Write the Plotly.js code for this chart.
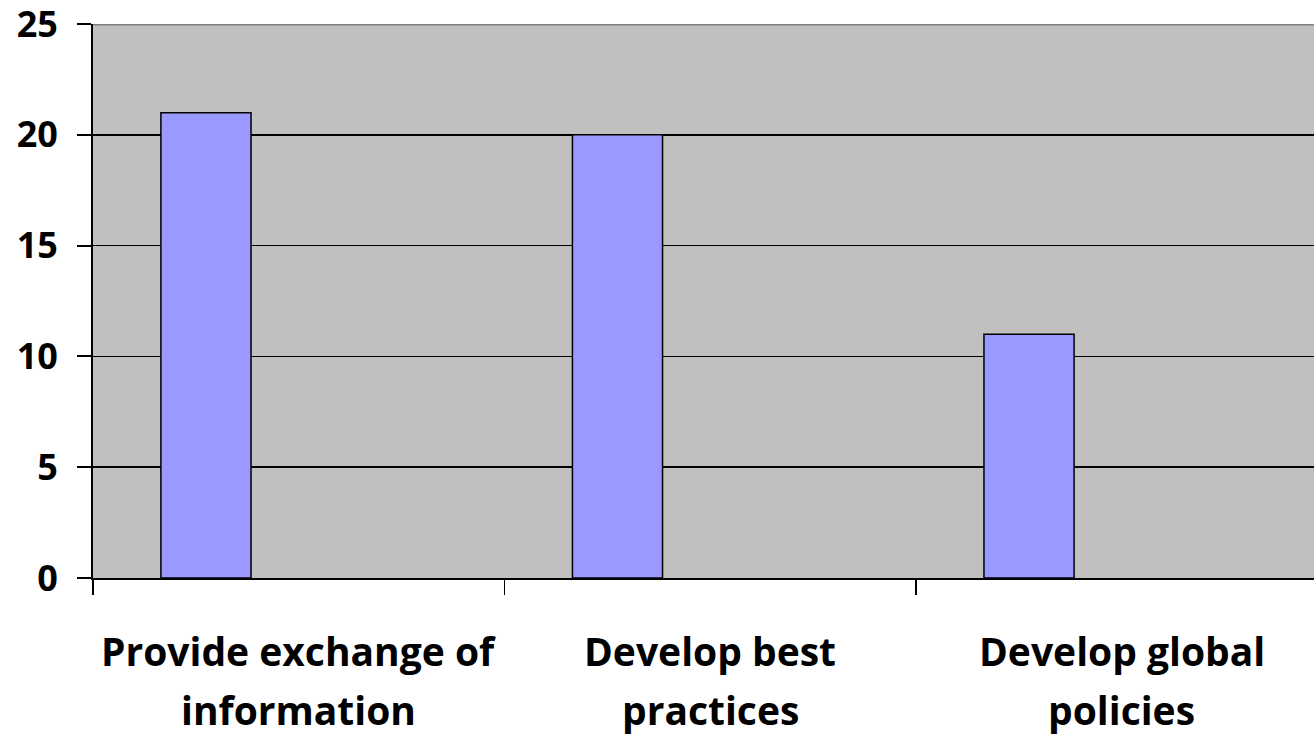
<!DOCTYPE html>
<html>
<head>
<meta charset="utf-8">
<script src="https://cdn.plot.ly/plotly-3.0.1.min.js"></script>
<style>html,body{margin:0;padding:0;background:#fff;}#chart{width:1314px;height:738px;}</style>
</head>
<body>
<div id="chart"></div>
<script>
var categories = ["Provide exchange of information", "Develop best practices", "Develop global policies"];
var labelLine1 = ["Provide exchange of", "Develop best", "Develop global"];
var labelLine2 = ["information", "practices", "policies"];
var values = [21, 20, 11];
var yTicks = [0, 5, 10, 15, 20, 25];

var FONT = "Open Sans, Liberation Sans, Arial, sans-serif";

var trace = {
  type: "bar",
  x: categories,
  y: values,
  width: 0.219,
  offset: -0.335,
  marker: {color: "#9999FF", line: {color: "#000000", width: 1.5}},
  hoverinfo: "x+y"
};

var annotations = [];
for (var i = 0; i < categories.length; i++) {
  annotations.push({x: categories[i], xref: "x", y: -0.130, yref: "paper", yanchor: "middle",
    text: "<b>" + labelLine1[i] + "</b>", showarrow: false, font: {family: FONT, size: 39, color: "#000"}});
  annotations.push({x: categories[i], xref: "x", y: -0.238, yref: "paper", yanchor: "middle",
    text: "<b>" + labelLine2[i] + "</b>", showarrow: false, font: {family: FONT, size: 39, color: "#000"}});
}

var layout = {
  width: 1314, height: 738,
  margin: {l: 93, r: 0, t: 24, b: 160, pad: 0},
  paper_bgcolor: "#FFFFFF",
  plot_bgcolor: "#C0C0C0",
  showlegend: false,
  bargap: 0,
  xaxis: {
    type: "category",
    categoryorder: "array",
    categoryarray: categories,
    range: [-0.5, 2.467],
    tickson: "boundaries",
    ticks: "outside",
    ticklen: 15,
    tickwidth: 1.5,
    tickcolor: "#000",
    showticklabels: false,
    showgrid: false,
    showline: true,
    linecolor: "#000",
    linewidth: 2,
    zeroline: false,
    fixedrange: true
  },
  yaxis: {
    range: [0, 25],
    tickvals: yTicks,
    ticktext: yTicks.map(function(v){return "<b>" + v + "</b>";}),
    ticks: "outside",
    ticklen: 14,
    tickwidth: 2,
    tickcolor: "#000",
    ticklabelstandoff: 12,
    ticklabeloverflow: "allow",
    automargin: false,
    tickfont: {family: FONT, size: 36, color: "#000"},
    showgrid: true,
    gridcolor: "#000",
    gridwidth: 1.5,
    showline: true,
    linecolor: "#000",
    linewidth: 2,
    zeroline: false,
    fixedrange: true
  },
  shapes: [{type: "line", xref: "paper", yref: "y", x0: 0, x1: 1, y0: 25, y1: 25,
    line: {color: "#808080", width: 3}}],
  annotations: annotations
};

Plotly.newPlot("chart", [trace], layout, {displayModeBar: false, staticPlot: true});
</script>
</body>
</html>
